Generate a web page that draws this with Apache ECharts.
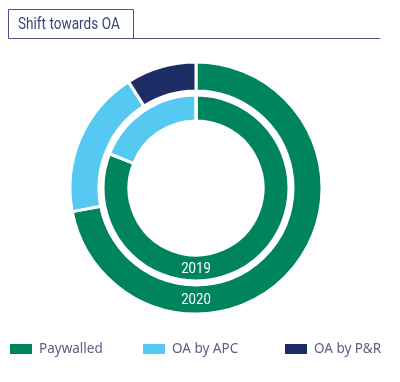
<!DOCTYPE html>
<html><head><meta charset="utf-8">
<script src="https://cdn.jsdelivr.net/npm/echarts@6/dist/echarts.min.js"></script>
<style>html,body{margin:0;padding:0;background:#fff}#c{width:400px;height:382px}</style>
</head><body><div id="c"></div>
<script>
const categories = ['Paywalled', 'OA by APC', 'OA by P&R'];
const years = ['2019', '2020'];
const values2019 = [81, 19, 0];
const values2020 = [72, 19, 9];
const colors = ['#00845E', '#56C9F2', '#1B2D64'];

const cx = 196, cy = 188;
const innerR = [67, 93], outerR = [97, 126];

const chart = echarts.init(document.getElementById('c'));
const mk = (vals) => categories.map((n, i) => ({name: n, value: vals[i], itemStyle: {color: colors[i]}}));
const legendPos = [8, 141, 283];
chart.setOption({
  animation: false,
  graphic: [
    {type: 'rect', shape: {x: 8.5, y: 9.5, width: 125, height: 29}, style: {fill: 'none', stroke: '#4a5590', lineWidth: 1}},
    {type: 'line', shape: {x1: 133, y1: 38.5, x2: 380, y2: 38.5}, style: {stroke: '#4a5590', lineWidth: 1}},
    {type: 'text', x: 18, y: 25, scaleX: 0.8, style: {text: 'Shift towards OA', fill: '#3a4677', font: '17px Roboto, sans-serif', verticalAlign: 'middle'}},
    {type: 'text', x: cx, y: cy + (innerR[0] + innerR[1]) / 2 + 1, scaleX: 0.88, style: {text: years[0], fill: '#fff', font: '15px Roboto, sans-serif', align: 'center', verticalAlign: 'middle'}, z: 100},
    {type: 'text', x: cx, y: cy + (outerR[0] + outerR[1]) / 2 + 1, scaleX: 0.88, style: {text: years[1], fill: '#fff', font: '15px Roboto, sans-serif', align: 'center', verticalAlign: 'middle'}, z: 100}
  ],
  legend: categories.map((n, i) => ({
    data: [n], left: legendPos[i], top: 342, padding: 0, itemWidth: 24, itemHeight: 12, itemGap: 8,
    icon: 'rect', textStyle: {color: '#5a6085', fontSize: 13.5, fontFamily: 'Noto Sans', padding: [0, 0, 0, 1]}, selectedMode: false
  })),
  series: [
    {type: 'pie', name: years[0], center: [cx, cy], radius: innerR, startAngle: 90, clockwise: true,
     label: {show: false}, labelLine: {show: false}, silent: true,
     itemStyle: {borderColor: '#fff', borderWidth: 3}, data: mk(values2019)},
    {type: 'pie', name: years[1], center: [cx, cy], radius: outerR, startAngle: 90, clockwise: true,
     label: {show: false}, labelLine: {show: false}, silent: true,
     itemStyle: {borderColor: '#fff', borderWidth: 3}, data: mk(values2020)}
  ]
});
</script></body></html>
